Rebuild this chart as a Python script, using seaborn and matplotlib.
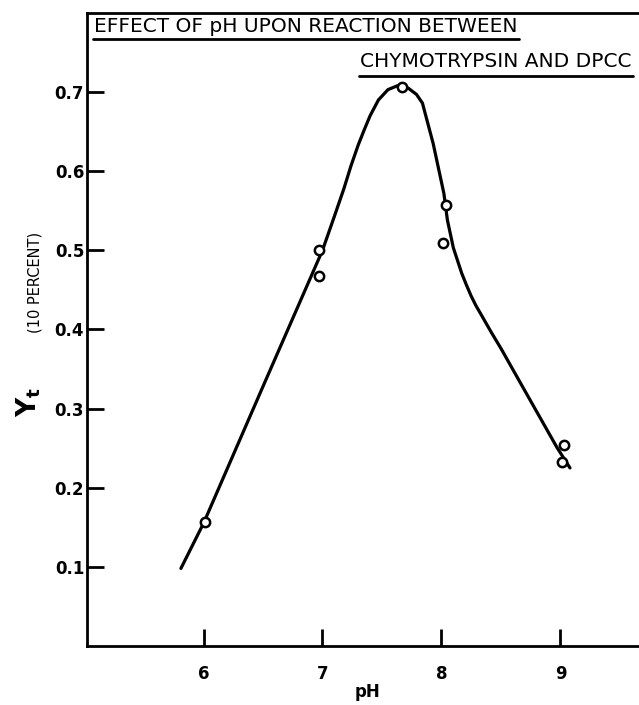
import numpy as np
import pandas as pd
import matplotlib
matplotlib.use("Agg")
import matplotlib.pyplot as plt
from matplotlib.lines import Line2D
import seaborn as sns

sns.set_style("ticks")
plt.rcParams['font.family'] = ['DejaVu Sans']
plt.rcParams['text.color'] = 'black'
plt.rcParams['mathtext.default'] = 'regular'

# measured points (open circles)
ph_points = [6.01, 6.97, 6.97, 7.67, 8.04, 8.01, 9.03, 9.01]
yt_points = [0.157, 0.500, 0.467, 0.706, 0.557, 0.509, 0.254, 0.232]

# hand drawn curve
ph_curve = [5.81, 6.0, 6.5, 7.0, 7.1, 7.18, 7.24, 7.30, 7.35, 7.40, 7.47, 7.55, 7.63, 7.72,
            7.79, 7.84, 7.93, 8.02, 8.05, 8.10, 8.17, 8.21, 8.25, 8.29, 8.34, 8.42, 8.50,
            8.65, 8.97, 9.08]
yt_curve = [0.098, 0.155, 0.328, 0.500, 0.543, 0.578, 0.607, 0.633, 0.652, 0.670, 0.690, 0.703,
            0.708, 0.705, 0.697, 0.686, 0.635, 0.572, 0.538, 0.503, 0.471, 0.456, 0.442, 0.430,
            0.417, 0.396, 0.376, 0.336, 0.251, 0.225]

x_ticks = [6, 7, 8, 9]
y_ticks = [0.1, 0.2, 0.3, 0.4, 0.5, 0.6, 0.7]
y_labels = ["0.1", "0.2", "0.3", "0.4", "0.5", "0.6", "0.7"]

pts = pd.DataFrame({"pH": ph_points, "yt": yt_points})
crv = pd.DataFrame({"pH": ph_curve, "yt": yt_curve})

fig = plt.figure(figsize=(6.39, 7.05), dpi=100)
ax = fig.add_axes([0.136, 0.0837, 0.864, 0.898])

sns.lineplot(data=crv, x="pH", y="yt", sort=False, color="black", lw=2.3, ax=ax)
sns.scatterplot(data=pts, x="pH", y="yt", marker="o", s=45, facecolor="white",
                edgecolor="black", linewidth=1.8, zorder=3, ax=ax)

ax.set_xlim(5.02, 9.66)
ax.set_ylim(0, 0.8)
ax.set_xticks(x_ticks)
ax.set_xticklabels([str(t) for t in x_ticks])
ax.set_yticks(y_ticks)
ax.set_yticklabels(y_labels)
ax.tick_params(direction="in", length=12, width=2, colors="black", labelcolor="black")
for lab in ax.get_xticklabels() + ax.get_yticklabels():
    lab.set_fontweight("bold")
    lab.set_fontsize(12)
ax.tick_params(axis="x", pad=14)
ax.tick_params(axis="y", pad=2)

for side in ["left", "bottom", "top"]:
    ax.spines[side].set_linewidth(2)
    ax.spines[side].set_color("black")
ax.spines["right"].set_visible(False)

ax.set_xlabel("")
ax.set_ylabel("")
ax.text(7.38, -0.047, "pH", ha="center", va="top", fontsize=12, fontweight="bold",
        transform=ax.transData, clip_on=False)

# y axis label in two pieces
fig.text(0.045, 0.43, r"Y$_\mathbf{t}$", rotation=90, ha="center", va="center",
         fontsize=19, fontweight="bold")
fig.text(0.054, 0.60, "(10 PERCENT)", rotation=90, ha="center", va="center", fontsize=10.5)

# underlined title lines
t1 = fig.text(0.147, 0.9546, "EFFECT OF pH UPON REACTION BETWEEN", ha="left", va="baseline",
              fontsize=14.5)
t2 = fig.text(0.989, 0.905, "CHYMOTRYPSIN AND DPCC", ha="right", va="baseline",
              fontsize=14.5)

fig.canvas.draw()
r = fig.canvas.get_renderer()
inv = fig.transFigure.inverted()
for t, uy in [(t1, 1 - 39 / 705), (t2, 1 - 76 / 705)]:
    bb = t.get_window_extent(r)
    (x0, y0), (x1, y1) = inv.transform([(bb.x0, bb.y0), (bb.x1, bb.y1)])
    fig.add_artist(Line2D([x0 - 0.002, x1 + 0.002], [uy, uy],
                          color="black", lw=2, transform=fig.transFigure))

fig.savefig("out.png", dpi=100, facecolor="white")
